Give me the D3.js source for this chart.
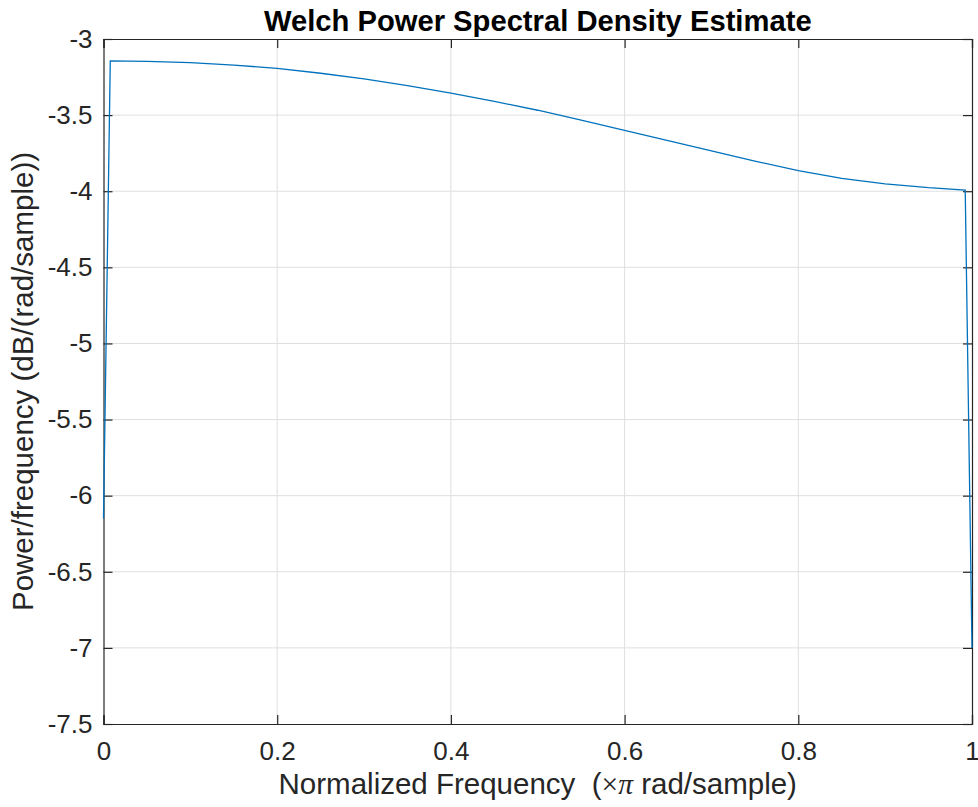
<!DOCTYPE html>
<html>
<head>
<meta charset="utf-8">
<script src="https://cdn.jsdelivr.net/npm/d3@7"></script>
<style>
  body { margin: 0; background: #fff; }
  svg { font-family: 'Liberation Sans', Arial, Helvetica, sans-serif; }
  .axis-label { font-size: 29.5px; fill: #262626; white-space: pre; }
  .title { font-size: 29.2px; font-weight: bold; fill: #000; }
  .tick text { font-size: 26px; fill: #262626; }
  .math { font-family: 'Liberation Serif', 'DejaVu Serif', serif; }
</style>
</head>
<body>
<svg width="978" height="807"></svg>
<script>
(function (d3) {
  'use strict';

  // normalized frequency (x pi rad/sample)
  const freq = [0, 0.0078, 0.05, 0.1, 0.15, 0.2, 0.25, 0.3, 0.35, 0.4, 0.45,
    0.5, 0.55, 0.6, 0.65, 0.7, 0.75, 0.8, 0.85, 0.9, 0.95, 0.9922, 1];
  // power/frequency in dB/(rad/sample)
  const psd = [-6.15, -3.144, -3.147, -3.155, -3.171, -3.193, -3.225, -3.262, -3.306, -3.355, -3.41,
    -3.468, -3.533, -3.6, -3.668, -3.735, -3.802, -3.865, -3.915, -3.952, -3.977, -3.992, -7.0];

  const xTicks = [0, 0.2, 0.4, 0.6, 0.8, 1];
  const yTicks = [-3, -3.5, -4, -4.5, -5, -5.5, -6, -6.5, -7, -7.5];

  const titleText = 'Welch Power Spectral Density Estimate';
  const yAxisLabel = 'Power/frequency (dB/(rad/sample))';

  const svg = d3.select('svg');
  const margin = { top: 39, right: 6, bottom: 83, left: 103.5 };
  const width = +svg.attr('width');
  const height = +svg.attr('height');
  const innerWidth = width - margin.left - margin.right;
  const innerHeight = height - margin.top - margin.bottom;

  const xScale = d3.scaleLinear().domain([0, 1]).range([0, innerWidth]);
  const yScale = d3.scaleLinear().domain([-7.5, -3]).range([innerHeight, 0]);

  const g = svg.append('g')
    .attr('transform', `translate(${margin.left},${margin.top})`);

  // grid
  g.append('g').selectAll('line').data(xTicks.slice(1, -1))
    .enter().append('line')
      .attr('x1', d => xScale(d)).attr('x2', d => xScale(d))
      .attr('y1', 0).attr('y2', innerHeight)
      .attr('stroke', '#dfdfdf').attr('stroke-width', 1);
  g.append('g').selectAll('line').data(yTicks.slice(1, -1))
    .enter().append('line')
      .attr('y1', d => yScale(d)).attr('y2', d => yScale(d))
      .attr('x1', 0).attr('x2', innerWidth)
      .attr('stroke', '#dfdfdf').attr('stroke-width', 1);

  // axes with inward ticks, plain hyphen minus
  const fmt = d => String(d);
  const tickLen = 9;
  const xAxis = d3.axisBottom(xScale).tickValues(xTicks).tickFormat(fmt)
    .tickSize(-tickLen).tickPadding(18);
  const yAxis = d3.axisLeft(yScale).tickValues(yTicks).tickFormat(fmt)
    .tickSize(-tickLen).tickPadding(11);

  const xAxisG = g.append('g').attr('transform', `translate(0,${innerHeight})`).call(xAxis);
  const yAxisG = g.append('g').call(yAxis);
  const xTopG = g.append('g').call(d3.axisTop(xScale).tickValues(xTicks).tickSize(-tickLen).tickFormat(''));
  const yRightG = g.append('g').attr('transform', `translate(${innerWidth},0)`)
    .call(d3.axisRight(yScale).tickValues(yTicks).tickSize(-tickLen).tickFormat(''));

  [xAxisG, yAxisG, xTopG, yRightG].forEach(a => {
    a.selectAll('.domain').attr('stroke', '#262626').attr('stroke-width', 1.2);
    a.selectAll('.tick line').attr('stroke', '#262626').attr('stroke-width', 1.2);
    a.selectAll('text').attr('font-family', null).attr('font-size', null);
  });
  xAxisG.selectAll('.tick text').attr('dy', '0.71em');

  // line
  const data = freq.map((f, i) => ({ f: f, p: psd[i] }));
  const line = d3.line().x(d => xScale(d.f)).y(d => yScale(d.p));
  g.append('path').datum(data)
    .attr('d', line)
    .attr('fill', 'none')
    .attr('stroke', '#0072bd')
    .attr('stroke-width', 1.3);

  // texts
  svg.append('text')
    .attr('class', 'title')
    .attr('x', margin.left + innerWidth / 2)
    .attr('y', 31)
    .attr('text-anchor', 'middle')
    .text(titleText);

  const xl = svg.append('text')
    .attr('class', 'axis-label')
    .attr('x', margin.left + innerWidth / 2)
    .attr('y', 794)
    .attr('text-anchor', 'middle');
  xl.append('tspan').text('Normalized Frequency  (');
  xl.append('tspan').attr('class', 'math').text('\u00d7');
  xl.append('tspan').attr('class', 'math').attr('font-style', 'italic').text('\u03c0');
  xl.append('tspan').text(' rad/sample)');

  svg.append('text')
    .attr('class', 'axis-label')
    .attr('transform', `translate(33,${margin.top + innerHeight / 2}) rotate(-90)`)
    .attr('text-anchor', 'middle')
    .text(yAxisLabel);

}(d3));
</script>
</body>
</html>
